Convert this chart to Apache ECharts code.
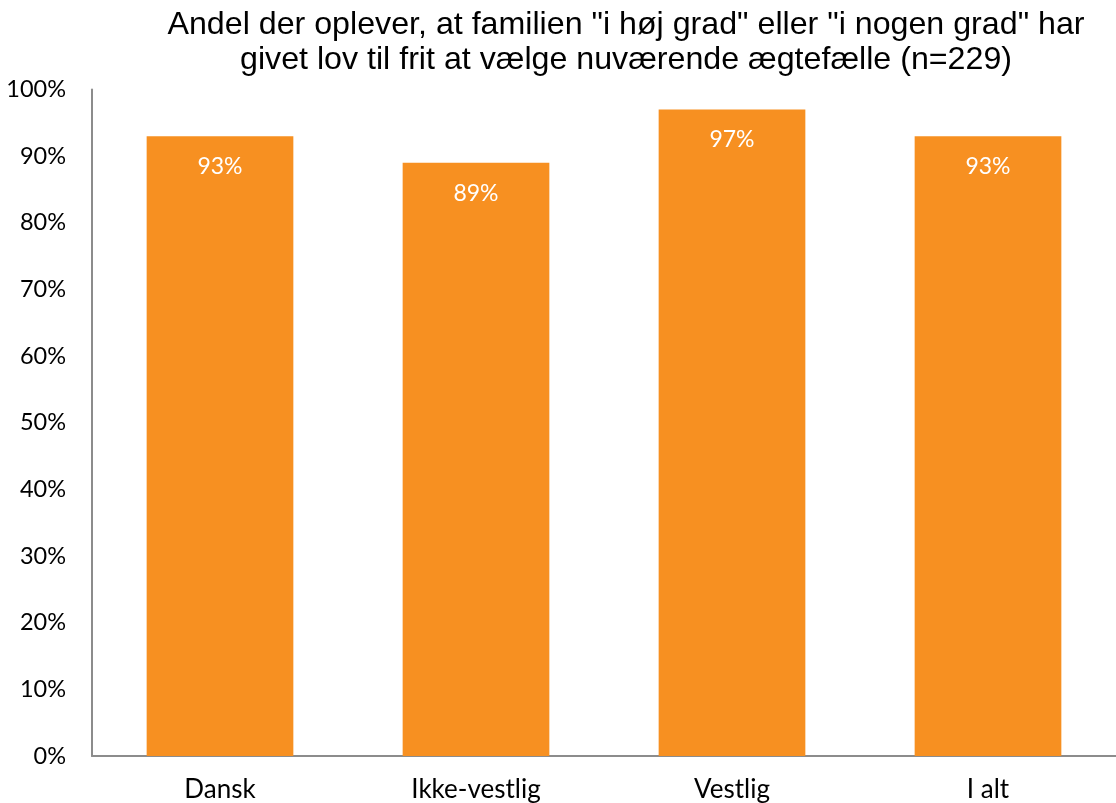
<!DOCTYPE html>
<html>
<head>
<meta charset="utf-8">
<script src="https://cdn.jsdelivr.net/npm/echarts@6/dist/echarts.min.js"></script>
<style>
	html, body { margin: 0; padding: 0; background: #fff; }
	#chart { width: 1116px; height: 803px; }
</style>
</head>
<body>
<div id="chart"></div>
<script>
// data
const categories = ['Dansk', 'Ikke-vestlig', 'Vestlig', 'I alt'];
const shares = [93, 89, 97, 93];
const yTicks = [0, 10, 20, 30, 40, 50, 60, 70, 80, 90, 100];

const titleText = 'Andel der oplever, at familien "i høj grad" eller "i nogen grad" har\ngivet lov til frit at vælge nuværende ægtefælle (n=229)';

const myChart = echarts.init(document.getElementById('chart'));
const labelFont = 'Lato, "Open Sans", sans-serif';
const option = {
	animation: false,
	title: {
		text: titleText,
		left: 621,
		top: 3,
		textAlign: 'center',
		textStyle: {
			fontFamily: '"Liberation Sans", Arial, sans-serif',
			fontWeight: 'normal',
			fontSize: 32.2,
			lineHeight: 35,
			color: '#000',
		},
	},
	grid: {
		left: 92,
		right: -10,
		top: 89.5,
		bottom: 47,
		containLabel: false,
	},
	xAxis: {
		type: 'category',
		data: categories,
		axisLine: { lineStyle: { color: '#8c8c8c', width: 2 } },
		axisTick: { show: false },
		axisLabel: {
			margin: 21,
			fontFamily: labelFont,
			fontSize: 26,
			color: '#000',
		},
	},
	yAxis: {
		type: 'value',
		min: yTicks[0],
		max: yTicks[yTicks.length - 1],
		interval: yTicks[1] - yTicks[0],
		splitLine: { show: false },
		axisTick: { show: false },
		axisLine: { show: true, lineStyle: { color: '#8c8c8c', width: 2 } },
		axisLabel: {
			margin: 26,
			fontFamily: labelFont,
			fontSize: 23.5,
			color: '#000',
			formatter: (v) => v + '%',
		},
	},
	series: [
		{
			type: 'bar',
			data: shares,
			barWidth: '57.3%',
			itemStyle: { color: '#f79021' },
			label: {
				show: true,
				position: 'insideTop',
				distance: 19,
				fontFamily: labelFont,
				fontSize: 23,
				color: '#fff',
				formatter: (p) => p.value + '%',
			},
		},
	],
};
myChart.setOption(option);
</script>
</body>
</html>
